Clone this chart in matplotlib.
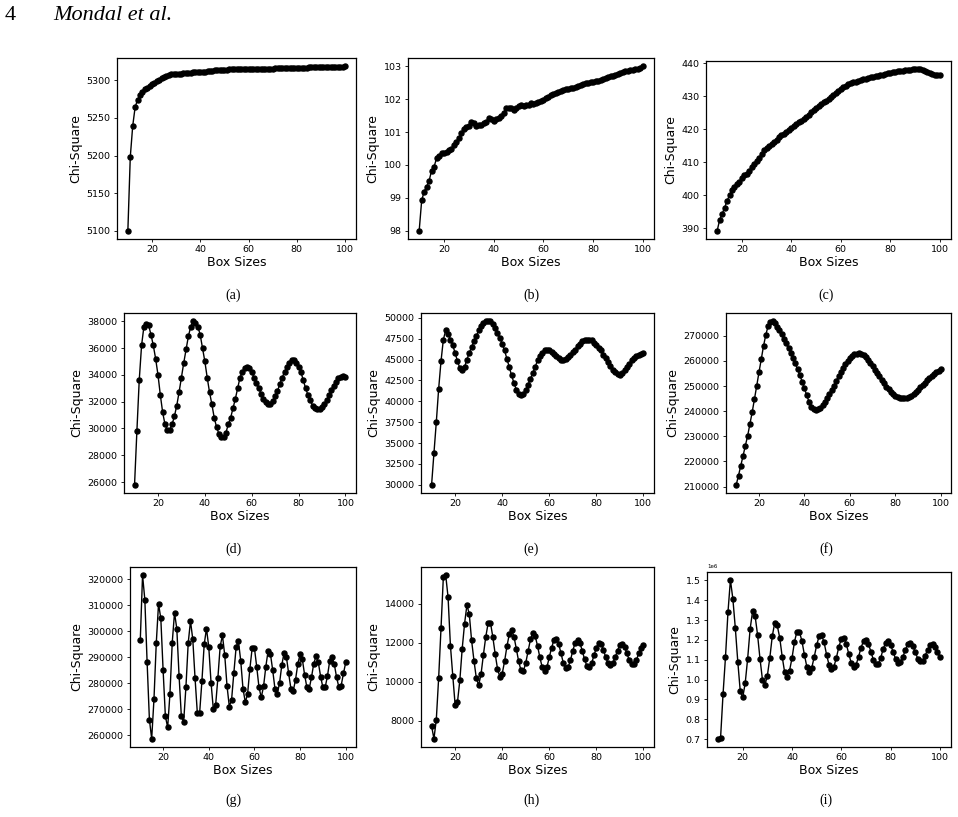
#!/usr/bin/env python3

import matplotlib
matplotlib.use("Agg")
import matplotlib.pyplot as plt
from matplotlib.ticker import MultipleLocator

box_sizes = list(range(10, 101))

chi_a = [5100, 5198, 5239, 5264, 5274, 5280, 5285, 5288, 5290, 5292,
         5294.5, 5296.5, 5298.5, 5300.5, 5302.5, 5304.5, 5306, 5307.5, 5308.5, 5308.8,
         5308.8, 5308.6, 5308.7, 5309, 5309.3, 5309.6, 5310, 5310.3, 5310.6, 5310.8,
         5311, 5311, 5311.2, 5311.6, 5312.2, 5312.8, 5313.2, 5313.4, 5313.6, 5313.8,
         5314, 5314.1, 5314.3, 5314.4, 5314.6, 5314.7, 5314.8, 5315, 5315.1, 5315.2,
         5315.3, 5315.4, 5315.4, 5315.5, 5315.5, 5315.4, 5315.4, 5315.3, 5315.3, 5315.4,
         5315.5, 5315.6, 5315.7, 5315.8, 5315.9, 5316, 5316.1, 5316.2, 5316.3, 5316.4,
         5316.5, 5316.6, 5316.7, 5316.8, 5316.9, 5317, 5317.1, 5317.2, 5317.2, 5317.3,
         5317.4, 5317.5, 5317.5, 5317.6, 5317.7, 5317.8, 5317.9, 5318, 5318.1, 5318.2,
         5318.6]

chi_b = [98.0, 98.92, 99.19, 99.34, 99.52, 99.83, 99.95, 100.2, 100.27, 100.35,
         100.37, 100.4, 100.45, 100.5, 100.6, 100.7, 100.83, 100.96, 101.08, 101.14,
         101.18, 101.32, 101.27, 101.18, 101.2, 101.21, 101.28, 101.31, 101.42, 101.39,
         101.35, 101.39, 101.42, 101.49, 101.59, 101.72, 101.74, 101.72, 101.67, 101.72,
         101.79, 101.81, 101.8, 101.82, 101.83, 101.89, 101.85, 101.89, 101.91, 101.93,
         101.97, 102.02, 102.07, 102.12, 102.17, 102.2, 102.22, 102.25, 102.27, 102.3,
         102.32, 102.33, 102.35, 102.38, 102.4, 102.42, 102.45, 102.48, 102.5, 102.52,
         102.53, 102.54, 102.56, 102.59, 102.61, 102.64, 102.66, 102.69, 102.71, 102.74,
         102.76, 102.78, 102.81, 102.84, 102.86, 102.88, 102.9, 102.91, 102.93, 102.95,
         103.0]

chi_c = [389.2, 392.5, 394.3, 396.2, 398.3, 400.0, 401.7, 402.5, 403.3, 404.0,
         405.3, 406.1, 406.6, 407.3, 408.6, 409.6, 410.4, 411.4, 412.6, 413.6,
         414.4, 415.0, 415.6, 416.3, 416.9, 417.6, 418.2, 418.7, 419.2, 419.8,
         420.4, 420.9, 421.5, 422.1, 422.7, 423.3, 423.9, 424.5, 425.2, 425.8,
         426.5, 427.1, 427.7, 428.2, 428.7, 429.2, 429.7, 430.3, 430.9, 431.6,
         432.3, 432.8, 433.3, 433.7, 434.1, 434.3, 434.5, 434.8, 435.0, 435.2,
         435.3, 435.6, 435.8, 436.0, 436.1, 436.3, 436.4, 436.6, 436.8, 437.0,
         437.1, 437.3, 437.4, 437.6, 437.7, 437.8, 437.9, 438.0, 438.1, 438.2,
         438.3, 438.3, 438.2, 438.0, 437.8, 437.4, 437.1, 436.8, 436.5, 436.4,
         436.4]

chi_d = [25800, 29800, 33600, 36200, 37600, 37800, 37700, 37000, 36200, 35200,
         34000, 32500, 31200, 30300, 29900, 29900, 30300, 30900, 31700, 32700,
         33800, 34900, 35900, 36900, 37600, 38000, 37900, 37600, 37000, 36000,
         35000, 33800, 32700, 31800, 30800, 30100, 29600, 29400, 29400, 29700,
         30300, 30800, 31500, 32200, 33000, 33800, 34200, 34500, 34600, 34500,
         34200, 33800, 33400, 33000, 32600, 32200, 32000, 31800, 31850, 32050,
         32400, 32800, 33300, 33800, 34200, 34600, 34900, 35100, 35100, 34900,
         34600, 34200, 33600, 33000, 32500, 32100, 31700, 31500, 31450, 31450,
         31600, 31800, 32100, 32500, 32900, 33200, 33500, 33750, 33850, 33900,
         33850]

chi_e = [30000, 33800, 37500, 41500, 44800, 47400, 48500, 48100, 47400, 46700,
         45800, 44800, 44000, 43700, 44100, 45000, 45800, 46500, 47200, 47800,
         48500, 49000, 49400, 49600, 49600, 49600, 49300, 48800, 48200, 47600,
         46900, 46100, 45100, 44100, 43100, 42200, 41400, 40900, 40700, 40900,
         41400, 42000, 42700, 43400, 44100, 44900, 45400, 45800, 46100, 46200,
         46100, 45900, 45700, 45400, 45200, 45000, 45000, 45100, 45300, 45600,
         45900, 46200, 46600, 46900, 47200, 47400, 47400, 47400, 47300, 47000,
         46800, 46400, 46100, 45600, 45200, 44700, 44200, 43800, 43500, 43300,
         43200, 43400, 43700, 44100, 44500, 44900, 45200, 45400, 45600, 45700,
         45800]

chi_f = [210700, 214400, 218300, 222200, 226200, 230100, 234800, 239500, 244700, 250000,
         255400, 260600, 265900, 270300, 273800, 275600, 275800, 274900, 273600, 272300,
         270700, 268900, 267000, 265000, 263000, 261000, 259000, 256600, 254400, 251700,
         249100, 246400, 243800, 241800, 240700, 240500, 240700, 241400, 242500, 243800,
         245100, 246700, 248500, 250200, 252100, 253800, 255500, 257100, 258700, 260100,
         261100, 262000, 262600, 262900, 263000, 262900, 262400, 261500, 260400, 259100,
         257800, 256400, 255100, 253800, 252500, 251100, 249800, 248700, 247700, 246900,
         246100, 245600, 245300, 245100, 245100, 245300, 245600, 246100, 246900, 247700,
         248600, 249500, 250500, 251400, 252300, 253100, 253900, 254700, 255400, 255900,
         256600]

chi_g = [296500, 321500, 312100, 288000, 266100, 258700, 273900, 295300, 310500, 304900,
         285100, 267300, 263100, 276000, 295600, 307100, 301000, 282800, 267300, 265200,
         278600, 295500, 303900, 296900, 281900, 268600, 268600, 280800, 294900, 301000,
         294000, 280300, 270100, 271500, 282100, 294200, 298400, 290800, 279000, 271100,
         273700, 284100, 294000, 296100, 288700, 277900, 272800, 275800, 285500, 293400,
         293600, 286400, 278500, 274600, 278800, 286400, 292500, 291400, 285100, 277900,
         276000, 280000, 287000, 291800, 290200, 283800, 277900, 277100, 281300, 287400,
         291100, 289200, 283200, 278400, 277900, 282300, 287600, 290400, 288000, 282600,
         278400, 278500, 282800, 288700, 290200, 287300, 282300, 278500, 279100, 283800,
         288000]

chi_h = [7730, 7070, 8050, 10190, 12740, 15390, 15470, 14340, 11860, 10310,
         8820, 8960, 10070, 11690, 12970, 13930, 13490, 12120, 11090, 10190,
         9830, 10380, 11370, 12290, 12990, 13040, 12310, 11440, 10670, 10240,
         10410, 11040, 11810, 12430, 12670, 12320, 11690, 11040, 10580, 10550,
         10960, 11570, 12170, 12500, 12350, 11850, 11250, 10750, 10550, 10750,
         11250, 11750, 12150, 12200, 11950, 11450, 10950, 10700, 10750, 11100,
         11600, 12000, 12150, 12000, 11600, 11150, 10800, 10750, 10950, 11350,
         11750, 12000, 11950, 11650, 11250, 10950, 10850, 10950, 11250, 11600,
         11900, 11950, 11800, 11450, 11100, 10900, 10900, 11100, 11450, 11750,
         11900]

chi_i = [700000, 705000, 925000, 1113000, 1338000, 1502000, 1406000, 1258000, 1089000, 940000,
         910000, 982000, 1106000, 1255000, 1344000, 1322000, 1227000, 1105000, 999000, 972000,
         1020000, 1111000, 1220000, 1287000, 1273000, 1211000, 1116000, 1037000, 1015000, 1045000,
         1109000, 1191000, 1242000, 1240000, 1195000, 1126000, 1065000, 1039000, 1059000, 1114000,
         1173000, 1220000, 1223000, 1188000, 1126000, 1075000, 1052000, 1065000, 1110000, 1165000,
         1205000, 1210000, 1180000, 1130000, 1085000, 1065000, 1075000, 1115000, 1160000, 1195000,
         1200000, 1180000, 1140000, 1100000, 1078000, 1080000, 1110000, 1155000, 1185000, 1192000,
         1175000, 1140000, 1105000, 1085000, 1090000, 1115000, 1150000, 1180000, 1185000, 1170000,
         1140000, 1105000, 1092000, 1095000, 1120000, 1150000, 1172000, 1180000, 1165000, 1140000,
         1115000]

captions = ["(a)", "(b)", "(c)", "(d)", "(e)", "(f)", "(g)", "(h)", "(i)"]
series = [chi_a, chi_b, chi_c, chi_d, chi_e, chi_f, chi_g, chi_h, chi_i]
y_steps = [50, 1, 10, 2000, 2500, 10000, 10000, 2000, 100000]

W, H = 958, 817

# axes boxes in pixels: left, top, right, bottom
boxes = [(117, 58, 356, 239), (408, 58, 654, 239), (706, 61, 951, 239),
         (124, 313, 356, 493), (421, 313, 654, 493), (726, 313, 951, 493),
         (130, 567, 356, 747), (421, 567, 654, 747), (707, 572, 951, 747)]
caption_pos = [(233, 295), (531, 295), (826, 295),
               (233, 549), (531, 549), (826, 549),
               (233, 800), (531, 800), (826, 800)]


def add_panel(fig, box, values, step, sci=False):
    l, t, r, b = box
    ax = fig.add_axes([l / W, 1 - b / H, (r - l) / W, (b - t) / H])
    ax.plot(box_sizes, values, color="black", marker="o", markersize=3.6, linewidth=1.0)
    ax.set_xlabel("Box Sizes", fontsize=9, labelpad=1)
    ax.set_ylabel("Chi-Square", fontsize=9, labelpad=3)
    ax.tick_params(labelsize=6.8, length=2.5, width=0.6, pad=2)
    ax.xaxis.set_major_locator(MultipleLocator(20))
    ax.yaxis.set_major_locator(MultipleLocator(step))
    if sci:
        ax.ticklabel_format(axis="y", style="sci", scilimits=(6, 6))
        ax.yaxis.get_offset_text().set_fontsize(4)
    else:
        ax.ticklabel_format(axis="y", style="plain", useOffset=False)
    for sp in ax.spines.values():
        sp.set_linewidth(0.9)
    return ax


def main():
    fig = plt.figure(figsize=(W / 100, H / 100), dpi=100)
    serif = ["Liberation Serif", "DejaVu Serif"]

    fig.text(5 / W, 1 - 20 / H, "4", fontsize=16, family=serif, va="baseline")
    fig.text(53 / W, 1 - 20 / H, "Mondal et al.", fontsize=16, family=serif,
             style="italic", va="baseline")

    for i in range(9):
        add_panel(fig, boxes[i], series[i], y_steps[i], sci=(i == 8))
        cx, cy = caption_pos[i]
        fig.text(cx / W, 1 - cy / H, captions[i], fontsize=10, family=serif,
                 ha="center", va="center")

    fig.savefig("out.png", dpi=100)


if __name__ == "__main__":
    main()
